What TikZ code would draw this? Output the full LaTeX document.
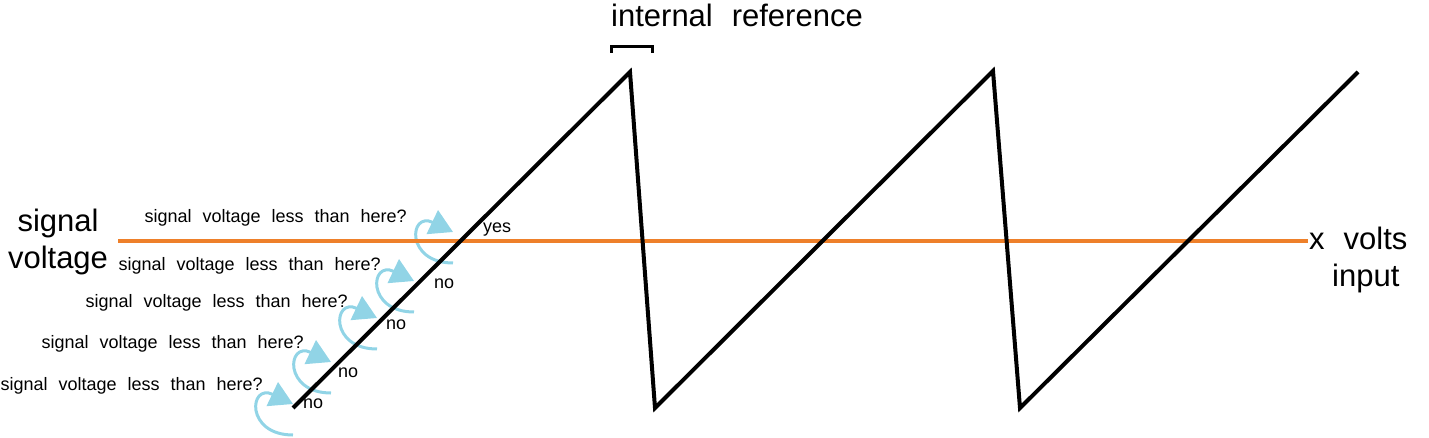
\documentclass[tikz,border=0pt]{standalone}
\usepackage{fontspec}
\setmainfont[WordSpace=2.2]{Liberation Sans}
\usetikzlibrary{arrows.meta}
\definecolor{sigorange}{RGB}{238,128,42}
\definecolor{askblue}{RGB}{145,212,230}
\tikzset{
  bigtext/.style={inner sep=0pt, font=\fontsize{31}{37}\selectfont},
  smalltext/.style={inner sep=0pt, font=\fontsize{18}{20}\selectfont},
  askarrow/.style={line width=3pt, askblue, -{Triangle[length=23pt,width=26pt]}},
}
\begin{document}
\begin{tikzpicture}[x=1pt,y=-1pt]
        \useasboundingbox (0,0) rectangle (1429,438);
        % questions asked along the ramp
        \foreach \tx/\ty in {453/232, 414/281, 377/318, 331/362, 293/404}
            \draw[askarrow] (\tx,\ty+31) .. controls (\tx-48,\ty+31) and (\tx-44,\ty-21) .. (\tx,\ty);
        \node[smalltext, anchor=base east] (q1) at (407,223) {signal voltage less than here?};
        \node[smalltext, anchor=base east] (q2) at (381,271) {signal voltage less than here?};
        \node[smalltext, anchor=base east] (q3) at (348,308) {signal voltage less than here?};
        \node[smalltext, anchor=base east] (q4) at (304,348) {signal voltage less than here?};
        \node[smalltext, anchor=base east] (q5) at (263,390) {signal voltage less than here?};
        \node[smalltext, anchor=base west] (yes) at (483,233) {yes};
        \node[smalltext, anchor=base west] (no1) at (434,288) {no};
        \node[smalltext, anchor=base west] (no2) at (386,329) {no};
        \node[smalltext, anchor=base west] (no3) at (338,377) {no};
        \node[smalltext, anchor=base west] (no4) at (303,408) {no};
        % signal
        \node[bigtext, anchor=base] (sigtop) at (58,232) {signal};
        \node[bigtext, anchor=base] (sigbot) at (58,269) {voltage};
        \node[bigtext, anchor=base west] (xv) at (1309,250) {x volts};
        \node[bigtext, anchor=base west] (inp) at (1332,287) {input};
        \coordinate (sigstart) at (118,241);
        \coordinate (sigend) at (1308,241);
        \draw[line width=4pt, sigorange] (sigstart) -- (sigend);
        % sawtooth
        \draw[line width=4pt, line join=miter]
                    (293,408) -- (630,72) -- (655,408) -- (993,71) -- (1020,408) -- (1358,72);
        \draw[line width=3pt]
                    (611,53) -- (611,47) -- (652,47) -- (652,53);
        \node[bigtext, anchor=base west] (intref) at (611,27) {internal reference};
    \end{tikzpicture}
\end{document}
